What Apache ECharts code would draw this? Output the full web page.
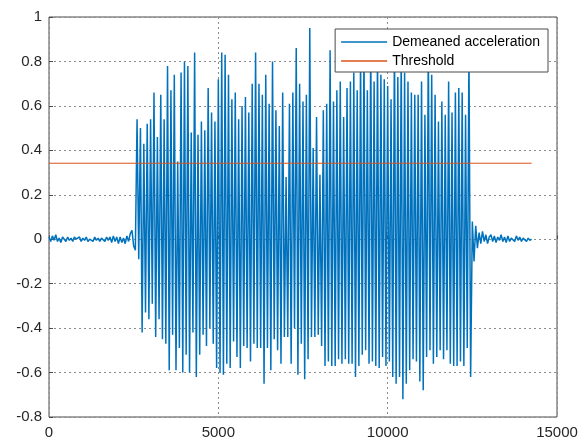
<!DOCTYPE html>
<html>
<head>
<meta charset="utf-8">
<style>
  html, body { margin: 0; padding: 0; background: #fff; }
  #chart { width: 586px; height: 442px; }
</style>
<script src="https://cdn.jsdelivr.net/npm/echarts@6/dist/echarts.min.js"></script>
</head>
<body>
<div id="chart"></div>
<script>
// sample spacing of the signal (x units)
const sampleStep = 50;

// quiet part before the movement
const quietBefore = [
  0.01, -0.01, 0.015, -0.005, 0.02, -0.01, 0.005, -0.015, 0.01, 0,
  -0.01, 0.01, -0.005, 0.005, -0.01, 0.01, 0, -0.005, 0.01, -0.01,
  0.005, -0.005, 0.01, -0.01, 0, 0.005, -0.01, 0.01, -0.005, 0.005,
  -0.01, 0.005, 0, -0.01, 0.01, -0.005, 0.01, -0.015, 0.015, -0.01,
  0.01, -0.02, 0.01, -0.015, 0.005, -0.02, 0.015, -0.01, 0.025, 0.04,
  -0.03, -0.05
];

// positive peaks of the active part, read left to right
const upPeaks = [
  0.54, 0.50, 0.43, 0.52, 0.54, 0.66, 0.46, 0.65, 0.54, 0.78, 0.67, 0.74, 0.35, 0.75, 0.80, 0.78,
  0.48, 0.84, 0.47, 0.53, 0.49, 0.68, 0.57, 0.53, 0.72, 0.84, 0.83, 0.74, 0.63, 0.66, 0.54, 0.60, 0.64,
  0.57, 0.70, 0.84, 0.70, 0.65, 0.74, 0.61, 0.80, 0.58, 0.51, 0.66, 0.28, 0.61, 0.66, 0.86, 0.70, 0.62, 0.65,
  0.95, 0.41, 0.55, 0.29, 0.58, 0.61, 0.85, 0.62, 0.67, 0.71, 0.55, 0.68, 0.71, 0.75, 0.67, 0.82,
  0.86, 0.67, 0.88, 0.71, 0.84, 0.74, 0.72, 0.69, 0.63, 0.90, 0.73, 0.85, 0.75, 0.71, 0.66, 0.65, 0.65,
  0.71, 0.56, 0.87, 0.74, 0.65, 0.53, 0.62, 0.56, 0.71, 0.57, 0.66, 0.68, 0.66, 0.56, 0.84
];

// negative peaks of the active part, read left to right
const downPeaks = [
  -0.09, -0.42, -0.33, -0.36, -0.29, -0.44, -0.36, -0.45, -0.47, -0.59, -0.43, -0.59, -0.49, -0.60, -0.52, -0.60,
  -0.42, -0.62, -0.52, -0.43, -0.48, -0.40, -0.47, -0.58, -0.60, -0.61, -0.56, -0.58, -0.46, -0.53, -0.58, -0.48, -0.49, -0.55,
  -0.47, -0.49, -0.49, -0.65, -0.49, -0.59, -0.45, -0.50, -0.56, -0.44, -0.44, -0.56, -0.40, -0.61, -0.47, -0.63,
  -0.54, -0.44, -0.44, -0.43, -0.48, -0.57, -0.55, -0.57, -0.57, -0.54, -0.56, -0.54, -0.56, -0.56, -0.62, -0.57, -0.52,
  -0.50, -0.56, -0.55, -0.57, -0.58, -0.53, -0.57, -0.55, -0.62, -0.65, -0.62, -0.72, -0.65, -0.59, -0.54, -0.55, -0.64,
  -0.68, -0.53, -0.50, -0.56, -0.53, -0.50, -0.54, -0.50, -0.56, -0.57, -0.57, -0.55, -0.57, -0.49, -0.62
];

// quiet part after the movement
const quietAfter = [
  0.08, -0.10, 0.06, -0.04, 0.03, -0.02, 0.035, -0.01, 0.02, -0.02,
  0.01, 0.02, -0.01, 0.015, -0.015, 0.01, -0.005, 0.02, -0.01, 0.01,
  -0.015, 0.015, -0.01, 0.005, 0.01, -0.01, 0.015, -0.005, 0.01, -0.01,
  0.005, 0.01, -0.01, 0.005, -0.005, 0
];

const thresholdValue = 0.342;

const xTicks = [0, 5000, 10000, 15000];
const yTicks = [-0.8, -0.6, -0.4, -0.2, 0, 0.2, 0.4, 0.6, 0.8, 1];

// build the sample list
const active = [];
upPeaks.forEach((u, i) => {
  active.push(u);
  if (i < downPeaks.length) active.push(downPeaks[i]);
});
const signal = quietBefore.concat(active, quietAfter);
const signalData = signal.map((v, i) => [i * sampleStep, v]);
const lastX = (signal.length - 1) * sampleStep;
const thresholdData = [[0, thresholdValue], [lastX, thresholdValue]];

const labelStyle = {
  color: "#262626",
  fontFamily: "Liberation Sans, Arial, sans-serif",
  fontSize: 15,
};
const gridLine = {
  show: true,
  lineStyle: { color: "#8c8c8c", type: [2, 3], width: 1 },
};

const chart = echarts.init(document.getElementById("chart"), null, { renderer: "canvas" });
chart.setOption({
  animation: false,
  grid: {
    left: 49,
    right: 29,
    top: 17,
    bottom: 25,
    show: true,
    borderColor: "#4a4a4a",
    borderWidth: 1,
  },
  xAxis: {
    type: "value",
    min: xTicks[0],
    max: xTicks[xTicks.length - 1],
    interval: 5000,
    axisLine: { show: false },
    axisTick: { show: true, inside: true, length: 4, lineStyle: { color: "#4a4a4a" } },
    axisLabel: { ...labelStyle, margin: 8, formatter: (v) => String(v) },
    splitLine: gridLine,
  },
  yAxis: {
    type: "value",
    min: yTicks[0],
    max: yTicks[yTicks.length - 1],
    interval: 0.2,
    axisLine: { show: false },
    axisTick: { show: true, inside: true, length: 4, lineStyle: { color: "#4a4a4a" } },
    axisLabel: {
      ...labelStyle,
      margin: 7,
      formatter: (v) => String(parseFloat(v.toFixed(1))),
    },
    splitLine: gridLine,
  },
  legend: {
    orient: "vertical",
    right: 38,
    top: 29,
    padding: [6, 8, 4, 6],
    itemGap: 5,
    itemWidth: 46,
    itemHeight: 1.5,
    icon: "rect",
    backgroundColor: "#fff",
    borderColor: "#4a4a4a",
    borderWidth: 1,
    textStyle: { color: "#000", fontFamily: "Liberation Sans, Arial, sans-serif", fontSize: 14 },
    data: ["Demeaned acceleration", "Threshold"],
  },
  series: [
    {
      name: "Demeaned acceleration",
      type: "line",
      data: signalData,
      showSymbol: false,
      symbol: "none",
      sampling: null,
      color: "#0072BD",
      lineStyle: { color: "#0072BD", width: 1.5 },
      z: 2,
    },
    {
      name: "Threshold",
      type: "line",
      data: thresholdData,
      showSymbol: false,
      symbol: "none",
      color: "#D95319",
      lineStyle: { color: "#D95319", width: 1 },
      z: 3,
    },
  ],
});
</script>
</body>
</html>
